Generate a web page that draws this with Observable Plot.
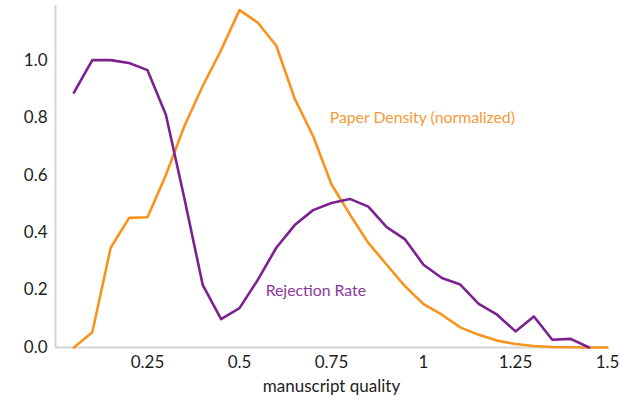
<!DOCTYPE html>
<html>
<head>
<meta charset="utf-8">
<script src="https://cdn.jsdelivr.net/npm/d3@7"></script>
<script src="https://cdn.jsdelivr.net/npm/@observablehq/plot@0.6"></script>
<style>
  html, body { margin: 0; padding: 0; background: #fff; }
  #chart { width: 620px; height: 402px; }
</style>
</head>
<body>
<div id="chart"></div>
<script>
const quality = [0.05,0.10,0.15,0.20,0.25,0.30,0.35,0.40,0.45,0.50,0.55,0.60,0.65,0.70,0.75,0.80,0.85,0.90,0.95,1.00,1.05,1.10,1.15,1.20,1.25,1.30,1.35,1.40,1.45,1.50];
const paperDensity = [0.0,0.053,0.347,0.451,0.453,0.60,0.77,0.91,1.035,1.174,1.13,1.05,0.866,0.736,0.567,0.463,0.364,0.288,0.213,0.151,0.114,0.07,0.044,0.024,0.012,0.005,0.002,0.001,0.0,0.0];
const rejectionRate = [0.887,1.0,1.0,0.99,0.965,0.81,0.52,0.218,0.099,0.137,0.236,0.347,0.426,0.478,0.503,0.517,0.49,0.419,0.376,0.288,0.242,0.219,0.152,0.114,0.056,0.108,0.027,0.03,0.0,null];
const yTicks = [0, 0.2, 0.4, 0.6, 0.8, 1.0];
const xTicks = [0.25, 0.5, 0.75, 1, 1.25, 1.5];
const seriesLabels = ["Paper Density (normalized)", "Rejection Rate"];
const labelX = [0.745, 0.571];
const labelY = [0.80, 0.198];
const colors = ["#f7941d", "#7b2290"];
const labelColors = ["#f59a3a", "#8a3a9c"];

const density = quality.map((q, i) => ({q, v: paperDensity[i]}));
const rejection = quality.map((q, i) => ({q, v: rejectionRate[i]})).filter(d => d.v != null);
const labels = seriesLabels.map((t, i) => ({t, x: labelX[i], y: labelY[i], c: labelColors[i]}));

const chart = Plot.plot({
  width: 620,
  height: 402,
  marginLeft: 55,
  marginRight: 13,
  marginTop: 5,
  marginBottom: 55,
  style: {fontFamily: "Lato, 'Open Sans', sans-serif", background: "#fff", color: "#1e1e1e"},
  x: {domain: [0, 1.5]},
  y: {domain: [0, 1.19]},
  marks: [
    Plot.ruleX([0], {stroke: "#d4d4d4", strokeWidth: 2}),
    Plot.ruleY([0], {stroke: "#d4d4d4", strokeWidth: 2}),
    Plot.axisY({ticks: yTicks, tickFormat: d3.format(".1f"), tickSize: 0, tickPadding: 8, fontSize: 17, label: null}),
    Plot.axisX({ticks: xTicks, tickFormat: d => String(d), tickSize: 0, tickPadding: 8, fontSize: 17,
      label: "manuscript quality", labelAnchor: "center", labelArrow: "none", labelOffset: 44}),
    Plot.line(density, {x: "q", y: "v", stroke: colors[0], strokeWidth: 2.6}),
    Plot.line(rejection, {x: "q", y: "v", stroke: colors[1], strokeWidth: 2.6}),
    Plot.text(labels, {x: "x", y: "y", text: "t", fill: "c", textAnchor: "start", fontSize: 15.8})
  ]
});
document.getElementById("chart").appendChild(chart);
</script>
</body>
</html>
